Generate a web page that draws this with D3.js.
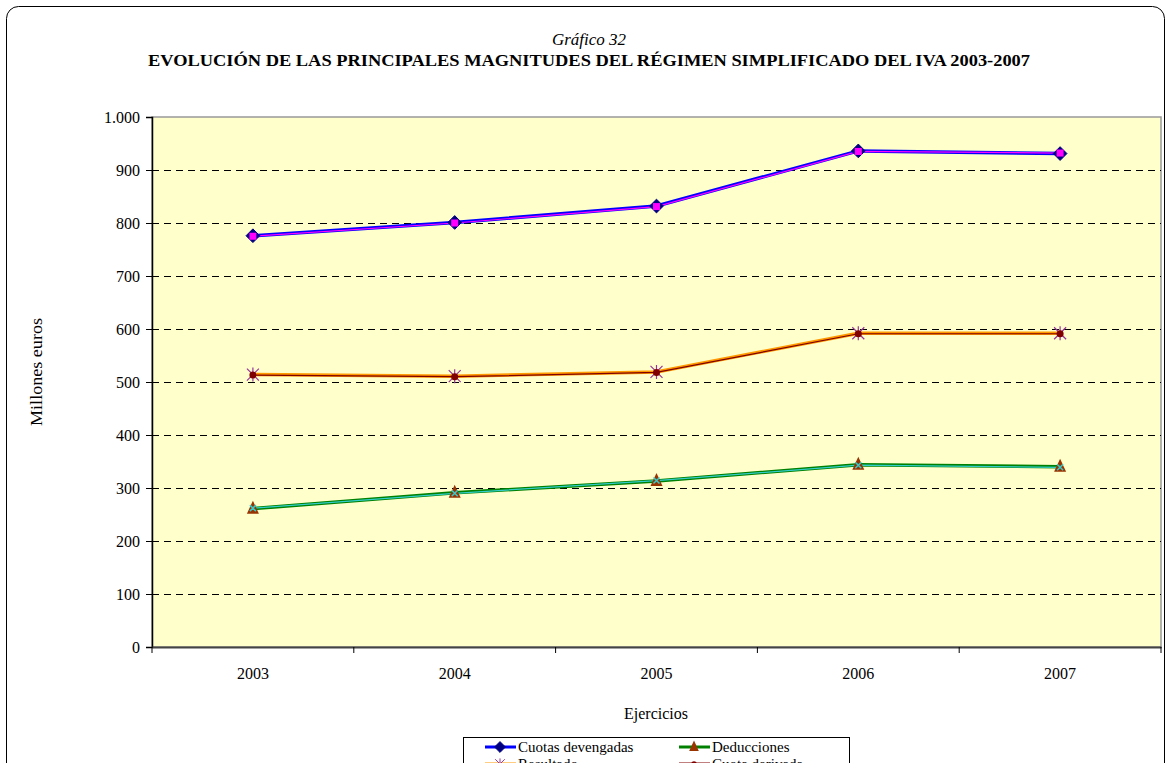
<!DOCTYPE html>
<html>
<head>
<meta charset="utf-8">
<script src="https://cdn.jsdelivr.net/npm/d3@7"></script>
<style>
  body { margin: 0; background: #fff; }
  svg { display: block; font-family: "Liberation Serif", "Times New Roman", serif; }
</style>
</head>
<body>
<svg width="1167" height="763"></svg>
<script>
const svg = d3.select("svg");

// data
const years = ["2003", "2004", "2005", "2006", "2007"];
const cuotasDevengadas = [776, 801, 832, 936, 931];
const deducciones = [261, 291, 313, 344, 340];
const resultado = [514, 511, 519, 592, 592];
// overlaid twin series (nearly identical values)
const cuotasB = [775, 800, 831, 935, 932];
const deduccionesB = [262, 290, 314, 343, 339];
const resultadoB = [513, 510, 518, 591, 591];
const yTicks = [0, 100, 200, 300, 400, 500, 600, 700, 800, 900, 1000];

const margin = { left: 152, right: 1161, top: 117, bottom: 647 };

const x = d3.scaleBand().domain(years).range([margin.left, margin.right]);
const y = d3.scaleLinear().domain([0, 1000]).range([margin.bottom, margin.top]);
const fmt = d => d3.format(",")(d).replace(/,/g, ".");

// outer frame
svg.append("rect")
  .attr("x", 6.5).attr("y", 6.5)
  .attr("width", 1158).attr("height", 780)
  .attr("rx", 12)
  .attr("fill", "#fff")
  .attr("stroke", "#000")
  .attr("stroke-width", 1);

// titles
svg.append("text")
  .attr("x", 589).attr("y", 45)
  .attr("text-anchor", "middle")
  .attr("textLength", 74)
  .attr("lengthAdjust", "spacingAndGlyphs")
  .style("font-style", "italic")
  .style("font-size", "16px")
  .text("Gráfico 32");
svg.append("text")
  .attr("x", 589).attr("y", 66)
  .attr("text-anchor", "middle")
  .attr("textLength", 882)
  .attr("lengthAdjust", "spacingAndGlyphs")
  .style("font-weight", "bold")
  .style("font-size", "16px")
  .text("EVOLUCIÓN DE LAS PRINCIPALES MAGNITUDES DEL RÉGIMEN SIMPLIFICADO DEL IVA 2003-2007");

// plot area
svg.append("rect")
  .attr("x", margin.left).attr("y", margin.top)
  .attr("width", margin.right - margin.left)
  .attr("height", margin.bottom - margin.top)
  .attr("fill", "#FFFFCC")
  .attr("stroke", "#999")
  .attr("stroke-width", 1.5);

// gridlines
svg.append("g")
  .selectAll("line")
  .data(yTicks.filter(d => d > 0 && d < 1000))
  .enter()
  .append("line")
  .attr("x1", margin.left).attr("x2", margin.right)
  .attr("y1", d => Math.round(y(d)) + 0.5)
  .attr("y2", d => Math.round(y(d)) + 0.5)
  .attr("stroke", "#000")
  .attr("stroke-dasharray", "7,5");

// y axis
const yAxis = svg.append("g")
  .attr("transform", `translate(${margin.left},0)`)
  .call(d3.axisLeft(y).tickValues(yTicks).tickFormat(fmt).tickSize(6).tickPadding(6));
yAxis.select(".domain").attr("stroke", "#000").attr("stroke-width", 1.5);
yAxis.selectAll(".tick line").attr("stroke", "#000");
yAxis.selectAll("text").style("font-size", "16px").style("font-family", "Liberation Serif").attr("fill", "#000");

// x axis
const xAxis = svg.append("g")
  .attr("transform", `translate(0,${margin.bottom})`)
  .call(d3.axisBottom(x).tickSize(0).tickPadding(21));
xAxis.select(".domain").attr("stroke", "#444").attr("stroke-width", 2);
xAxis.selectAll("text").style("font-size", "16px").style("font-family", "Liberation Serif").attr("fill", "#000");
xAxis.selectAll(".bound")
  .data(d3.range(years.length + 1))
  .enter()
  .append("line")
  .attr("x1", i => margin.left + i * x.bandwidth())
  .attr("x2", i => margin.left + i * x.bandwidth())
  .attr("y1", 0).attr("y2", 6)
  .attr("stroke", "#000");

// axis titles
svg.append("text")
  .attr("transform", "translate(42,372) rotate(-90)")
  .attr("text-anchor", "middle")
  .attr("textLength", 108)
  .attr("lengthAdjust", "spacingAndGlyphs")
  .style("font-size", "16px")
  .text("Millones euros");
svg.append("text")
  .attr("x", 656).attr("y", 719)
  .attr("text-anchor", "middle")
  .style("font-size", "16px")
  .text("Ejercicios");

const cx = (d, i) => x(years[i]) + x.bandwidth() / 2;
const line = d3.line().x((d, i) => cx(d, i)).y(d => y(d));

function drawLine(values, color, width) {
  svg.append("path")
    .datum(values)
    .attr("d", line)
    .attr("fill", "none")
    .attr("stroke", color)
    .attr("stroke-width", width);
}

const symbols = {
  diamond: (g) => g.append("path").attr("d", d3.symbol(d3.symbolDiamond2, 120)()).attr("fill", "#000080").attr("stroke", "#000080"),
  square: (g) => g.append("rect").attr("x", -3.5).attr("y", -3.5).attr("width", 7).attr("height", 7).attr("fill", "#FF00FF"),
  triangle: (g) => g.append("path").attr("d", "M0,-8 L6,5 L-6,5 Z").attr("fill", "#993300"),
  cross: (g) => g.append("path").attr("d", "M-3,-3 L3,3 M3,-3 L-3,3").attr("stroke", "#33CCCC").attr("stroke-width", 1.5),
  asterisk: (g) => g.append("path").attr("d", "M-6,-6 L6,6 M6,-6 L-6,6 M0,-7 L0,7").attr("stroke", "#993399").attr("stroke-width", 1.2),
  circle: (g) => g.append("circle").attr("r", 3.5).attr("fill", "#800000")
};

function drawMarkers(values, kind) {
  svg.append("g")
    .selectAll("g")
    .data(values)
    .enter()
    .append("g")
    .attr("transform", (d, i) => `translate(${cx(d, i)},${y(d)})`)
    .each(function() { symbols[kind](d3.select(this)); });
}

drawLine(cuotasDevengadas, "#0000FF", 3.5);
drawLine(cuotasB, "#FF00FF", 1.2);
drawLine(resultado, "#FF9900", 3.5);
drawLine(resultadoB, "#800000", 1.2);
drawLine(deducciones, "#008000", 3.5);
drawLine(deduccionesB, "#33CCCC", 1.2);

drawMarkers(cuotasDevengadas, "diamond");
drawMarkers(cuotasB, "square");
drawMarkers(resultado, "asterisk");
drawMarkers(resultadoB, "circle");
drawMarkers(deducciones, "triangle");
drawMarkers(deduccionesB, "cross");

// legend (cut by the bottom of the picture, as in the original)
const legendItems = [
  { name: "Cuotas devengadas", color: "#0000FF", marker: "diamond", col: 0, row: 0 },
  { name: "Deducciones", color: "#008000", marker: "triangle", col: 1, row: 0 },
  { name: "Resultado", color: "#FF9900", marker: "asterisk", col: 0, row: 1 },
  { name: "Cuota derivada", color: "#800000", marker: "circle", col: 1, row: 1 }
];
svg.append("rect")
  .attr("x", 463.5).attr("y", 737.5)
  .attr("width", 386).attr("height", 60)
  .attr("fill", "#fff")
  .attr("stroke", "#000");
const leg = svg.append("g")
  .selectAll("g")
  .data(legendItems)
  .enter()
  .append("g")
  .attr("transform", d => `translate(${d.col ? 679 : 485},${747 + d.row * 17})`);
leg.append("line")
  .attr("x1", 0).attr("x2", 31)
  .attr("stroke", d => d.color)
  .attr("stroke-width", 3);
leg.each(function(d) {
  const g = d3.select(this).append("g").attr("transform", "translate(15,0) scale(0.8)");
  symbols[d.marker](g);
});
leg.append("text")
  .attr("x", 33).attr("y", 5)
  .style("font-size", "15px")
  .text(d => d.name);
</script>
</body>
</html>
